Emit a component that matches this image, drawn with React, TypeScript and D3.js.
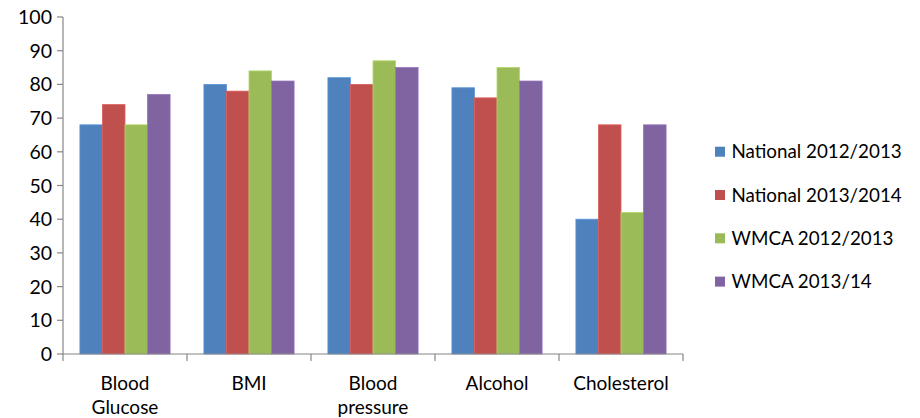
import React from "react";
import * as d3 from "d3";

const categories = [["Blood", "Glucose"], ["BMI"], ["Blood", "pressure"], ["Alcohol"], ["Cholesterol"]];
const seriesNames = ["National 2012/2013", "National 2013/2014", "WMCA 2012/2013", "WMCA 2013/14"];
const colors = ["#4F81BD", "#C0504D", "#9BBB59", "#8064A2"];
const national1213 = [68, 80, 82, 79, 40];
const national1314 = [74, 78, 80, 76, 68];
const wmca1213 = [68, 84, 87, 85, 42];
const wmca1314 = [77, 81, 85, 81, 68];
const yTicks = [0, 10, 20, 30, 40, 50, 60, 70, 80, 90, 100];

const series = [national1213, national1314, wmca1213, wmca1314];

export default function App() {
  const W = 920, H = 418;
  const left = 63, right = 683, top = 17, bottom = 354;
  const font = "Lato, 'Open Sans', sans-serif";
  const x = d3.scaleBand<number>().domain(d3.range(categories.length)).range([left, right]).paddingInner(0).paddingOuter(0);
  const y = d3.scaleLinear().domain([0, 100]).range([bottom, top]);
  const bw = x.bandwidth();
  const groupPad = bw * (1.5 / (4 + 1.5)) / 2;
  const inner = d3.scaleBand<number>().domain(d3.range(series.length)).range([groupPad, bw - groupPad]).padding(0);
  const axisColor = "#868686";

  return (
    <svg width={W} height={H} style={{ position: "absolute", left: 0, top: 0, background: "#fff" }} fontFamily={font}>
      {series.map((vals, si) =>
        vals.map((v, ci) => (
          <rect
            key={`${si}-${ci}`}
            x={(x(ci) as number) + (inner(si) as number)}
            y={y(v)}
            width={inner.bandwidth()}
            height={bottom - y(v)}
            fill={colors[si]}
            stroke={d3.color(colors[si])!.brighter(0.4).formatHex()}
            strokeWidth={0.8}
          />
        ))
      )}
      {/* y axis */}
      <line x1={left} x2={left} y1={top} y2={bottom} stroke={axisColor} strokeWidth={1.2} />
      {yTicks.map((t) => (
        <g key={t}>
          <line x1={left - 6} x2={left} y1={y(t)} y2={y(t)} stroke={axisColor} strokeWidth={1.2} />
          <text x={left - 11} y={y(t)} dy="0.36em" textAnchor="end" fontSize={19.5} fill="#000">
            {t}
          </text>
        </g>
      ))}
      {/* x axis */}
      <line x1={left} x2={right} y1={bottom} y2={bottom} stroke={axisColor} strokeWidth={1.2} />
      {d3.range(categories.length + 1).map((i) => {
        const xx = i < categories.length ? (x(i) as number) : right;
        return <line key={i} x1={xx} x2={xx} y1={bottom} y2={bottom + 7} stroke={axisColor} strokeWidth={1.2} />;
      })}
      {categories.map((lines, ci) => (
        <text key={ci} x={(x(ci) as number) + bw / 2} y={389.5} textAnchor="middle" fontSize={19} fill="#000">
          {lines.map((l, li) => (
            <tspan key={li} x={(x(ci) as number) + bw / 2} dy={li === 0 ? 0 : 24.5}>
              {l}
            </tspan>
          ))}
        </text>
      ))}
      {/* legend */}
      {seriesNames.map((n, i) => {
        const cy = 151.7 + i * 43.3;
        return (
          <g key={n}>
            <rect x={715} y={cy - 5} width={10} height={10} fill={colors[i]} />
            <text x={731.5} y={cy} dy="0.36em" fontSize={18.8} fill="#000">
              {n}
            </text>
          </g>
        );
      })}
    </svg>
  );
}
